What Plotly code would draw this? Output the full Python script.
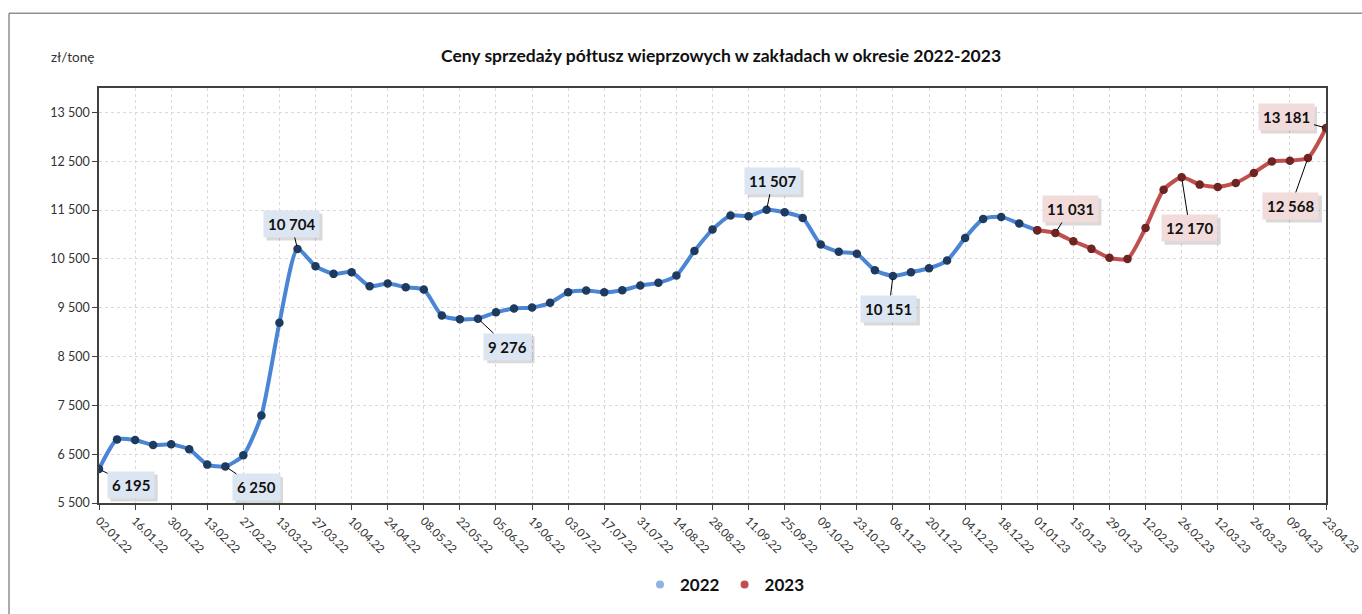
import pandas as pd
import plotly.graph_objects as go

# ---- data ----
dates = [d.strftime("%d.%m.%y") for d in pd.date_range("2022-01-02", "2023-04-23", freq="7D")]

prices = [
    6195, 6803, 6789, 6687, 6701, 6599, 6286, 6250, 6476, 7294,
    9191, 10704, 10349, 10193, 10226, 9940, 9995, 9919, 9872, 9340,
    9262, 9276, 9405, 9484, 9504, 9600, 9817, 9852, 9817, 9858,
    9954, 10009, 10159, 10664, 11100, 11387, 11373, 11507, 11454, 11339,
    10793, 10644, 10603, 10267, 10151, 10226, 10308, 10466, 10930, 11319,
    11360, 11223, 11086, 11031, 10861, 10705, 10521, 10500, 11135, 11918,
    12170, 12021, 11974, 12055, 12260, 12497, 12512, 12568, 13181,
]
split_idx = 52  # 01.01.23, first point of 2023 series
series_names = ["2022", "2023"]

y_ticks = [5500, 6500, 7500, 8500, 9500, 10500, 11500, 12500, 13500]
y_tick_text = ["5 500", "6 500", "7 500", "8 500", "9 500", "10 500", "11 500", "12 500", "13 500"]

# labelled points: index, pixel offset of label centre (dx, dy)
labels = [(0, 32, 16), (7, 31, 21), (11, -6, -25), (21, 30, 28), (37, 6, -29),
          (44, -4, 33), (53, 15, -24), (60, 8, 51), (67, -17, 48), (68, -40, -11)]

title = "Ceny sprzedaży półtusz wieprzowych w zakładach w okresie 2022-2023"
unit = "zł/tonę"

FONT = "Lato, 'Open Sans', sans-serif"
blue_line, blue_mk, blue_leg, blue_box = "#4a86d4", "#1f3a5f", "#8db4e2", "#dce6f2"
red_line, red_mk, red_leg, red_box = "#c0504d", "#6e2422", "#c0504d", "#f2dcdb"

fig = go.Figure()
fig.add_trace(go.Scatter(
    x=dates[:split_idx + 1], y=prices[:split_idx + 1], mode="lines+markers",
    line=dict(color=blue_line, width=4, shape="spline", smoothing=0.6),
    marker=dict(color=blue_mk, size=8.5), showlegend=False, hoverinfo="x+y"))
fig.add_trace(go.Scatter(
    x=dates[split_idx:], y=prices[split_idx:], mode="lines+markers",
    line=dict(color=red_line, width=4, shape="spline", smoothing=0.6),
    marker=dict(color=red_mk, size=8.5), showlegend=False, hoverinfo="x+y"))
# legend-only entries
for name, col in zip(series_names, [blue_leg, red_leg]):
    fig.add_trace(go.Scatter(x=[None], y=[None], mode="markers", name=f"<b>{name}</b>",
                             marker=dict(color=col, size=8)))

annotations = []
shapes = []
for idx, dx, dy in labels:
    box = blue_box if idx < split_idx else red_box
    txt = f"{prices[idx]:,}".replace(",", " ")
    ndig = sum(c.isdigit() for c in txt)
    w = ndig * 8.6 + 4 + 9
    h = 27
    # drop shadow (pixel-sized shape anchored on the data point)
    shapes.append(dict(type="rect", xref="x", yref="y", xsizemode="pixel", ysizemode="pixel",
                       xanchor=dates[idx], yanchor=prices[idx],
                       x0=dx - w / 2 + 3, x1=dx + w / 2 + 3,
                       y0=-dy - h / 2 - 3, y1=-dy + h / 2 - 3,
                       fillcolor="rgba(0,0,0,0.15)", line=dict(width=0), layer="above"))
    annotations.append(dict(x=dates[idx], y=prices[idx], ax=dx, ay=dy,
                            axref="pixel", ayref="pixel", text=f"<b>{txt}</b>",
                            showarrow=True, arrowcolor="#000000", arrowwidth=1,
                            arrowhead=0, standoff=3, bgcolor=box, borderpad=4,
                            font=dict(family=FONT, size=15, color="#111111")))

annotations.append(dict(text=f"<b>{title}</b>", xref="paper", yref="paper",
                        x=(721 - 99) / 1227, y=1 + (88 - 55) / 416, showarrow=False,
                        font=dict(family=FONT, size=17.5, color="#111111"),
                        xanchor="center", yanchor="middle"))
annotations.append(dict(text=unit, xref="paper", yref="paper",
                        x=(49 - 99) / 1227, y=1 + (88 - 57) / 416, showarrow=False,
                        font=dict(family=FONT, size=13.5, color="#333333"),
                        xanchor="left", yanchor="middle"))

shapes.append(dict(type="rect", xref="paper", yref="paper",
                   x0=(9 - 99) / 1227, x1=(1375 - 99) / 1227,
                   y0=(504 - 650) / 416, y1=1 + (88 - 13) / 416,
                   line=dict(color="#595959", width=1), layer="below"))

fig.update_layout(
    width=1362, height=614,
    margin=dict(l=99, r=36, t=88, b=110),
    paper_bgcolor="white", plot_bgcolor="white",
    font=dict(family=FONT, color="#333333"),
    annotations=annotations,
    shapes=shapes,
    legend=dict(orientation="h", x=(725 - 99) / 1227, xanchor="center",
                y=(504 - 585) / 416, yanchor="middle",
                font=dict(family=FONT, size=17, color="#111111"),
                itemwidth=30, tracegroupgap=0),
)

fig.update_xaxes(type="category", range=[0, len(dates) - 1], automargin=False,
                 tickmode="array", tickvals=dates[::2], ticktext=dates[::2],
                 tickangle=45, ticks="outside", ticklen=5, tickcolor="#404040",
                 tickfont=dict(family=FONT, size=11.5, color="#333333"),
                 showgrid=True, gridcolor="#d9d9d9", griddash="dot", gridwidth=1,
                 showline=True, linecolor="#404040", linewidth=1.5, mirror=True,
                 zeroline=False)
fig.update_yaxes(range=[5500, 14000], tickvals=y_ticks, ticktext=y_tick_text,
                 automargin=False,
                 ticks="outside", ticklen=5, tickcolor="#404040",
                 tickfont=dict(family=FONT, size=12.5, color="#333333"),
                 showgrid=True, gridcolor="#d9d9d9", griddash="dot", gridwidth=1,
                 showline=True, linecolor="#404040", linewidth=1.5, mirror=True,
                 zeroline=False)

fig.write_html("out.html", config={"displayModeBar": False},
               post_script="document.body.style.margin='0';document.body.style.overflow='hidden';")
